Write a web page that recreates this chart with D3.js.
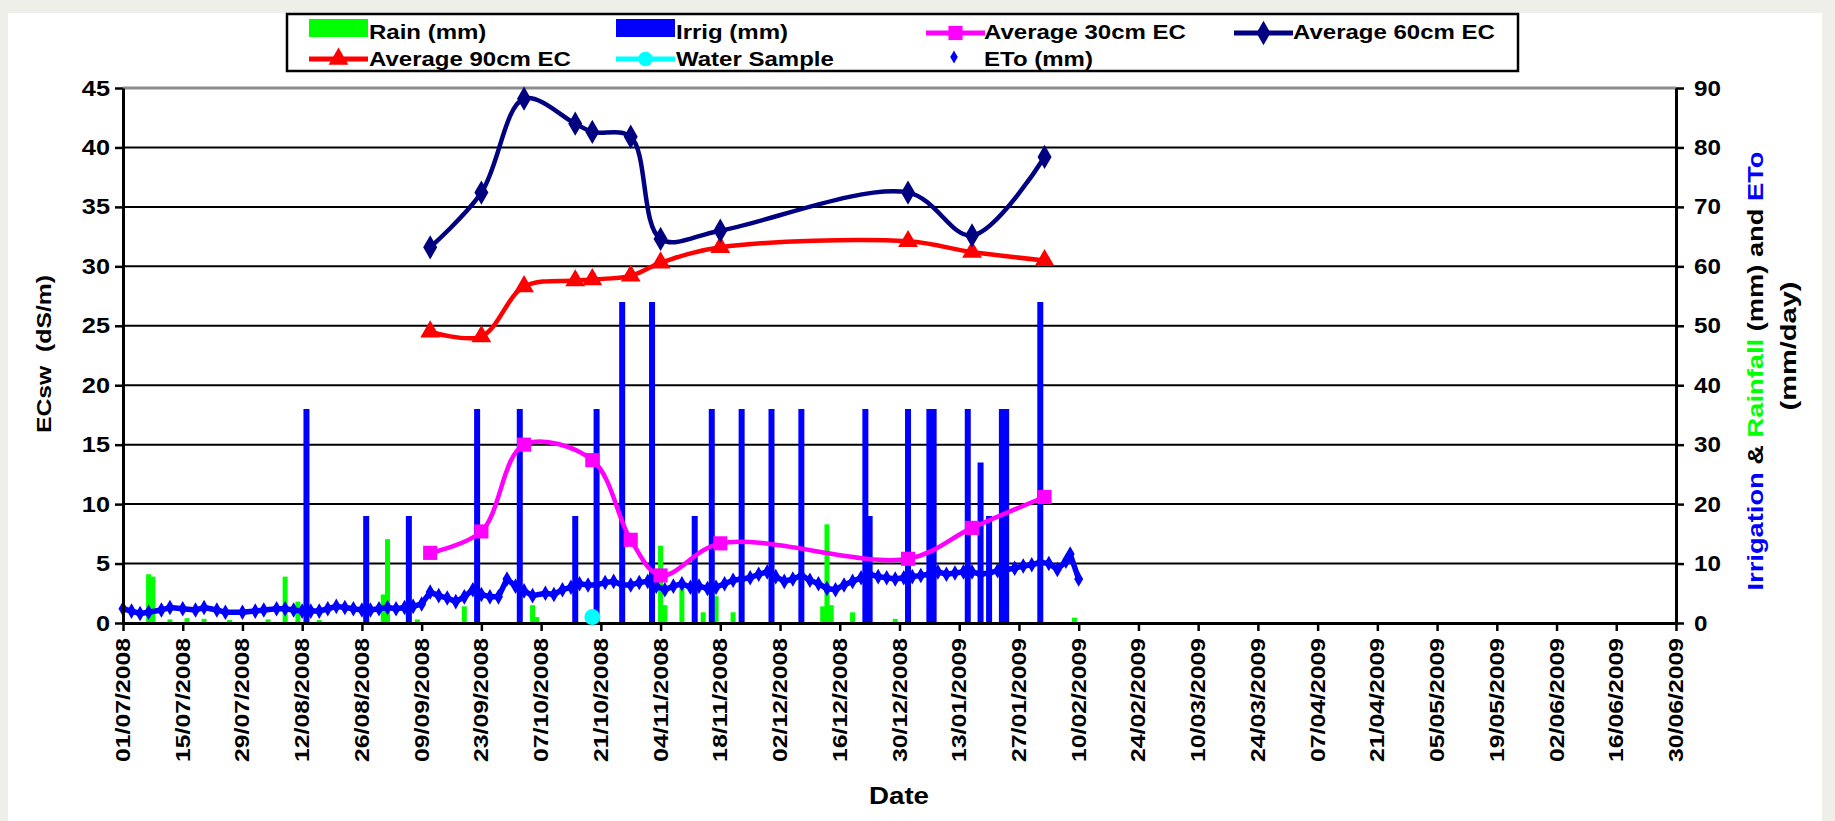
<!DOCTYPE html>
<html><head><meta charset="utf-8">
<script src="https://cdn.jsdelivr.net/npm/d3@7"></script>
<style>html,body{margin:0;padding:0;background:#efefe9;}svg{display:block;}</style>
</head><body>
<svg id="chart" width="1835" height="821"></svg>
<script>
// ---------- DATA ----------
const tickLabels = ["01/07/2008","15/07/2008","29/07/2008","12/08/2008","26/08/2008","09/09/2008","23/09/2008","07/10/2008","21/10/2008","04/11/2008","18/11/2008","02/12/2008","16/12/2008","30/12/2008","13/01/2009","27/01/2009","10/02/2009","24/02/2009","10/03/2009","24/03/2009","07/04/2009","21/04/2009","05/05/2009","19/05/2009","02/06/2009","16/06/2009","30/06/2009"];
const leftTicks = [0,5,10,15,20,25,30,35,40,45];
const rightTicks = [0,10,20,30,40,50,60,70,80,90];

const ecDates = ["2008-09-11","2008-09-23","2008-10-03","2008-10-15","2008-10-19","2008-10-28","2008-11-04","2008-11-18","2009-01-01","2009-01-16","2009-02-02"];
const ec60 = [31.6, 36.2, 44.1, 42.0, 41.3, 40.9, 32.3, 33.0, 36.2, 32.6, 39.2];
const ec90 = [24.5, 24.1, 28.3, 28.8, 28.9, 29.2, 30.3, 31.6, 32.1, 31.2, 30.5];
const ec30Dates = ["2008-09-11","2008-09-23","2008-10-03","2008-10-19","2008-10-28","2008-11-04","2008-11-18","2009-01-01","2009-01-16","2009-02-02"];
const ec30 = [5.9, 7.7, 15.0, 13.7, 7.0, 4.0, 6.7, 5.4, 8.0, 10.6];

const waterSampleDates = ["2008-10-19"];
const waterSampleValues = [0.5];

const irrigDates = ["2008-08-13","2008-08-27","2008-09-06","2008-09-22","2008-10-02","2008-10-15","2008-10-20","2008-10-26","2008-11-02","2008-11-12","2008-11-16","2008-11-23","2008-11-30","2008-12-07","2008-12-22","2008-12-23","2009-01-01","2009-01-06","2009-01-07","2009-01-15","2009-01-18","2009-01-20","2009-01-23","2009-01-24","2009-02-01"];
const irrigValues = [36,18,18,36,36,18,36,54,54,18,36,36,36,36,36,18,36,36,36,36,27,18,36,36,54];

const rainDates = ["2008-07-07","2008-07-08","2008-07-12","2008-07-16","2008-07-20","2008-07-26","2008-08-04","2008-08-08","2008-08-11","2008-08-16","2008-08-31","2008-09-01","2008-09-08","2008-09-19","2008-10-05","2008-10-06","2008-11-04","2008-11-05","2008-11-09","2008-11-14","2008-11-17","2008-11-21","2008-12-12","2008-12-13","2008-12-14","2008-12-19","2008-12-29","2009-02-09"];
const rainValues = [8.2,7.8,0.6,0.8,0.7,0.5,0.6,7.8,3.6,0.5,4.8,14.1,0.6,2.8,3.0,1.0,13.0,3.0,6.0,1.8,4.5,1.8,2.8,16.6,3.0,1.8,0.7,0.9];

const etoDates = ["2008-07-01","2008-07-03","2008-07-05","2008-07-07","2008-07-10","2008-07-12","2008-07-15","2008-07-18","2008-07-20","2008-07-23","2008-07-25","2008-07-29","2008-08-01","2008-08-03","2008-08-06","2008-08-08","2008-08-10","2008-08-12","2008-08-14","2008-08-16","2008-08-18","2008-08-20","2008-08-22","2008-08-24","2008-08-26","2008-08-28","2008-08-30","2008-09-01","2008-09-03","2008-09-05","2008-09-07","2008-09-09","2008-09-11","2008-09-13","2008-09-15","2008-09-17","2008-09-19","2008-09-21","2008-09-23","2008-09-25","2008-09-27","2008-09-29","2008-10-01","2008-10-03","2008-10-05","2008-10-08","2008-10-10","2008-10-12","2008-10-14","2008-10-16","2008-10-18","2008-10-20","2008-10-22","2008-10-24","2008-10-26","2008-10-28","2008-10-30","2008-11-01","2008-11-03","2008-11-05","2008-11-07","2008-11-09","2008-11-11","2008-11-13","2008-11-15","2008-11-17","2008-11-19","2008-11-21","2008-11-23","2008-11-25","2008-11-27","2008-11-29","2008-12-01","2008-12-03","2008-12-05","2008-12-07","2008-12-09","2008-12-11","2008-12-13","2008-12-15","2008-12-17","2008-12-19","2008-12-21","2008-12-23","2008-12-25","2008-12-27","2008-12-29","2008-12-31","2009-01-02","2009-01-04","2009-01-06","2009-01-08","2009-01-10","2009-01-12","2009-01-14","2009-01-16","2009-01-18","2009-01-20","2009-01-22","2009-01-24","2009-01-26","2009-01-28","2009-01-30","2009-02-01","2009-02-03","2009-02-05","2009-02-07","2009-02-08","2009-02-10"];
const etoValues = [2.4,2.0,1.6,1.8,2.2,2.6,2.4,2.2,2.6,2.2,1.8,1.8,2.0,2.2,2.4,2.4,2.2,2.0,2.0,2.0,2.4,2.8,2.6,2.4,2.2,2.2,2.4,2.6,2.4,2.6,2.8,3.2,5.2,4.6,4.2,3.6,4.4,5.6,4.8,4.4,4.4,7.4,6.2,5.4,4.6,5.0,4.8,5.6,6.0,6.6,6.4,6.4,6.8,7.0,6.4,6.4,6.8,7.0,6.2,5.6,6.2,6.6,6.0,6.2,5.8,6.0,6.6,7.2,7.4,7.6,8.2,8.6,7.8,7.0,7.4,8.0,7.2,6.6,5.8,5.6,6.4,7.0,7.6,8.2,7.8,7.6,7.4,7.6,7.8,8.0,8.2,8.6,8.2,8.4,8.6,8.6,8.2,8.4,8.8,9.0,9.2,9.6,9.8,10.2,10.0,9.0,10.4,11.6,7.4];

// ---------- LAYOUT ----------
const svg = d3.select("#chart");
const W = 1835, H = 821;
const X0 = 123, X1 = 1676, Y0 = 623, Y1 = 88;
const parseISO = d3.utcParse("%Y-%m-%d");
const parseTick = d3.utcParse("%d/%m/%Y");
const FONT = "'Liberation Sans', Arial, sans-serif";

function stretch(sel, k) {
  sel.each(function(){
    const n = this.getComputedTextLength();
    d3.select(this).attr("textLength", n*k).attr("lengthAdjust","spacingAndGlyphs");
  });
}

const x = d3.scaleUtc().domain([parseTick(tickLabels[0]), parseTick(tickLabels[tickLabels.length-1])]).range([X0, X1]);
const yL = d3.scaleLinear().domain([0,45]).range([Y0, Y1]);
const yR = d3.scaleLinear().domain([0,90]).range([Y0, Y1]);

// background
svg.append("rect").attr("x",8).attr("y",13).attr("width",1814).attr("height",H-13).attr("fill","#ffffff");

// gridlines
const grid = svg.append("g");
leftTicks.forEach(v => {
  if (v === 0) return;
  grid.append("line").attr("x1",X0).attr("x2",X1).attr("y1",yL(v)).attr("y2",yL(v))
    .attr("stroke", v===45 ? "#8c8c8c" : "#000").attr("stroke-width", v===45 ? 3 : 2);
});

// rain bars
const barsG = svg.append("g");
barsG.selectAll("rect.rain").data(rainDates.map((d,i)=>({d:parseISO(d),v:rainValues[i]})))
  .enter().append("rect").attr("class","rain")
  .attr("x", d=>x(d.d)-2.5).attr("width",5)
  .attr("y", d=>yR(d.v)).attr("height", d=>Y0-yR(d.v)).attr("fill","#00ff00");

// irrigation bars
barsG.selectAll("rect.irr").data(irrigDates.map((d,i)=>({d:parseISO(d),v:irrigValues[i]})))
  .enter().append("rect").attr("class","irr")
  .attr("x", d=>x(d.d)-3).attr("width",6)
  .attr("y", d=>yR(d.v)).attr("height", d=>Y0-yR(d.v)).attr("fill","#0000ff");

// ETo
const etoData = etoDates.map((d,i)=>({d:parseISO(d),v:etoValues[i]}));
svg.append("path").datum(etoData)
  .attr("d", d3.line().x(d=>x(d.d)).y(d=>yR(d.v)))
  .attr("fill","none").attr("stroke","#0000ff").attr("stroke-width",5.5).attr("stroke-linejoin","round");
svg.append("g").selectAll("path").data(etoData).enter().append("path")
  .attr("transform", d=>`translate(${x(d.d)},${yR(d.v)})`)
  .attr("d", d3.symbol().type(d3.symbolDiamond).size(70)).attr("fill","#0000ff");

// axes
const axG = svg.append("g").attr("font-family",FONT);
const xAxis = d3.axisBottom(x).tickValues(tickLabels.map(parseTick)).tickFormat(()=>"").tickSize(8).tickSizeOuter(0);
const xg = axG.append("g").attr("transform",`translate(0,${Y0})`).call(xAxis);
xg.select(".domain").attr("stroke","#000").attr("stroke-width",3);
xg.selectAll(".tick line").attr("stroke","#000").attr("stroke-width",2.5);

const lAxis = d3.axisLeft(yL).tickValues(leftTicks).tickSize(8).tickSizeOuter(0).tickPadding(5);
const lg = axG.append("g").attr("transform",`translate(${X0},0)`).call(lAxis);
lg.select(".domain").attr("stroke","#000").attr("stroke-width",3);
lg.selectAll(".tick line").attr("stroke","#000").attr("stroke-width",2.5);
lg.selectAll(".tick text").attr("font-size",22).attr("font-weight","bold").attr("font-family",FONT).attr("fill","#000");
stretch(lg.selectAll(".tick text"), 1.15);

const rAxis = d3.axisRight(yR).tickValues(rightTicks).tickSize(8).tickSizeOuter(0).tickPadding(10);
const rg = axG.append("g").attr("transform",`translate(${X1},0)`).call(rAxis);
rg.select(".domain").attr("stroke","#000").attr("stroke-width",3);
rg.selectAll(".tick line").attr("stroke","#000").attr("stroke-width",2.5);
rg.selectAll(".tick text").attr("font-size",22).attr("font-weight","bold").attr("font-family",FONT).attr("fill","#000");
stretch(rg.selectAll(".tick text"), 1.1);

// x tick labels rotated
axG.append("g").selectAll("text").data(tickLabels).enter().append("text")
  .attr("transform", d=>`translate(${x(parseTick(d))+7},${Y0+15}) rotate(-90)`)
  .attr("text-anchor","end").attr("font-size",20).attr("font-weight","bold").attr("font-family",FONT)
  .attr("textLength",124).attr("lengthAdjust","spacingAndGlyphs")
  .text(d=>d);

// axis titles
svg.append("text").attr("x",899).attr("y",804).attr("text-anchor","middle")
  .attr("font-family",FONT).attr("font-weight","bold").attr("font-size",24)
  .attr("textLength",60).attr("lengthAdjust","spacingAndGlyphs").text("Date");
svg.append("text").attr("transform","translate(51,354) rotate(-90)").attr("text-anchor","middle")
  .attr("font-family",FONT).attr("font-weight","bold").attr("font-size",21).attr("xml:space","preserve")
  .attr("textLength",158).attr("lengthAdjust","spacingAndGlyphs").text("ECsw  (dS/m)");
const rt = svg.append("text").attr("transform","translate(1763,371) rotate(-90)").attr("text-anchor","middle")
  .attr("font-family",FONT).attr("font-weight","bold").attr("font-size",22)
  .attr("textLength",439).attr("lengthAdjust","spacingAndGlyphs");
[["Irrigation","#0000ff"],[" & ","#000"],["Rainfall","#00ff00"],[" (mm) and ","#000"],["ETo","#0000ff"]]
  .forEach(([t,c])=>rt.append("tspan").attr("fill",c).attr("xml:space","preserve").text(t));
svg.append("text").attr("transform","translate(1796,346) rotate(-90)").attr("text-anchor","middle")
  .attr("font-family",FONT).attr("font-weight","bold").attr("font-size",22)
  .attr("textLength",129).attr("lengthAdjust","spacingAndGlyphs").text("(mm/day)");

// EC lines
const curve = d3.curveCatmullRom.alpha(0.5);
function ecSeries(dates, vals, color, symType, size) {
  const data = dates.map((d,i)=>({d:parseISO(d),v:vals[i]}));
  svg.append("path").datum(data).attr("d", d3.line().curve(curve).x(d=>x(d.d)).y(d=>yL(d.v)))
    .attr("fill","none").attr("stroke",color).attr("stroke-width",4.5);
  svg.append("g").selectAll("path").data(data).enter().append("path")
    .attr("transform", d=>`translate(${x(d.d)},${yL(d.v)})`)
    .attr("d", d3.symbol().type(symType).size(size)).attr("fill",color);
}
ecSeries(ec30Dates, ec30, "#ff00ff", d3.symbolSquare, 200);
ecSeries(ecDates, ec90, "#ff0000", d3.symbolTriangle, 170);
ecSeries(ecDates, ec60, "#000080", d3.symbolDiamond, 170);

// water sample
svg.append("g").selectAll("circle").data(waterSampleDates.map((d,i)=>({d:parseISO(d),v:waterSampleValues[i]})))
  .enter().append("circle").attr("cx",d=>x(d.d)).attr("cy",d=>yL(d.v)).attr("r",8).attr("fill","#00ffff");

// legend
const lgd = svg.append("g").attr("font-family",FONT).attr("font-weight","bold").attr("font-size",20);
lgd.append("rect").attr("x",287).attr("y",14).attr("width",1231).attr("height",57).attr("fill","#fff").attr("stroke","#000").attr("stroke-width",2.5);
function legText(xp, yp, t){
  const el = lgd.append("text").attr("x",xp).attr("y",yp).attr("dominant-baseline","central").text(t);
  stretch(el, 1.2);
}
function legLine(xa, yp, color, sym, size){
  lgd.append("line").attr("x1",xa).attr("x2",xa+59).attr("y1",yp).attr("y2",yp).attr("stroke",color).attr("stroke-width",5);
  lgd.append("path").attr("transform",`translate(${xa+29.5},${yp})`).attr("d",d3.symbol().type(sym).size(size)).attr("fill",color);
}
lgd.append("rect").attr("x",309).attr("y",19).attr("width",59).attr("height",18).attr("fill","#00ff00");
legText(369,32,"Rain (mm)");
lgd.append("rect").attr("x",616).attr("y",19).attr("width",59).attr("height",18).attr("fill","#0000ff");
legText(676,32,"Irrig (mm)");
legLine(926,33,"#ff00ff",d3.symbolSquare,200);
legText(984,32,"Average 30cm EC");
legLine(1234,33,"#000080",d3.symbolDiamond,170);
legText(1293,32,"Average 60cm EC");
legLine(309,59,"#ff0000",d3.symbolTriangle,170);
legText(369,59,"Average 90cm EC");
legLine(616,59,"#00ffff",d3.symbolCircle,170);
legText(676,59,"Water Sample");
lgd.append("path").attr("transform","translate(954,57)").attr("d",d3.symbol().type(d3.symbolDiamond).size(50)).attr("fill","#0000ff");
legText(984,59,"ETo (mm)");
</script>
</body></html>
